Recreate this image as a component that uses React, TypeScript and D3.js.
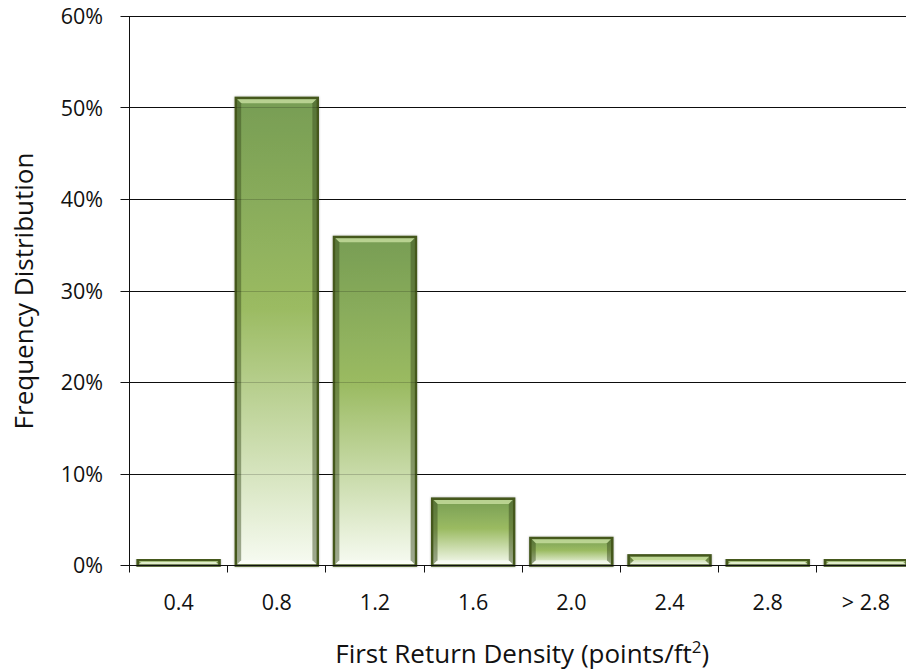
import React from "react";
import * as d3 from "d3";

// Frequency distribution of first-return point density
const categories = ["0.4", "0.8", "1.2", "1.6", "2.0", "2.4", "2.8", "> 2.8"];
const frequency = [0.6, 51.1, 35.9, 7.3, 3.0, 1.1, 0.6, 0.6];
const yTicks = [0, 10, 20, 30, 40, 50, 60];

const W = 906;
const H = 672;
const FONT = "'Open Sans', 'Noto Sans', sans-serif";

export default function App() {
  const plotLeft = 129.5;
  const plotRight = 915;
  const plotTop = 16.5;
  const plotBottom = 565.5;

  const gap = 0.2 / 1.2;
  const x = d3
    .scaleBand<string>()
    .domain(categories)
    .range([plotLeft, plotRight])
    .paddingInner(gap)
    .paddingOuter(gap / 2);
  const y = d3.scaleLinear().domain([0, 60]).range([plotBottom, plotTop]);
  const step = x.step();
  const bw = x.bandwidth();
  const crisp = (v: number) => Math.round(v - 0.5) + 0.5;

  return (
    <svg
      width={W}
      height={H}
      style={{ position: "absolute", left: 0, top: 0, background: "#fff" }}
      fontFamily={FONT}
    >
      <defs>
        <linearGradient id="barFill" x1="0" y1="0" x2="0" y2="1">
          <stop offset="0" stopColor="#779d54" />
          <stop offset="0.45" stopColor="#9bbb62" />
          <stop offset="1" stopColor="#f7fbf2" />
        </linearGradient>
        <filter id="barShadow" x="-10%" y="-10%" width="120%" height="120%">
          <feDropShadow dx="0" dy="0" stdDeviation="1.2" floodColor="#000" floodOpacity="0.3" />
        </filter>
      </defs>

      {/* horizontal gridlines */}
      {yTicks.map((t) => (
        <line
          key={"g" + t}
          x1={plotLeft - 9}
          x2={W}
          y1={crisp(y(t))}
          y2={crisp(y(t))}
          stroke="#111"
          strokeWidth={1}
        />
      ))}

      {/* y axis */}
      <line x1={crisp(plotLeft)} x2={crisp(plotLeft)} y1={crisp(y(60))} y2={crisp(y(0)) + 7} stroke="#111" />
      {yTicks.map((t) => (
        <text
          key={"yl" + t}
          x={103}
          y={y(t)}
          dy="0.36em"
          textAnchor="end"
          fontSize={21.5}
          fill="#111"
        >
          {t + "%"}
        </text>
      ))}

      {/* category boundary ticks */}
      {categories.map((c, i) => {
        const bx = crisp((x(c) as number) - (step * gap) / 2);
        return i === 0 ? null : (
          <line key={"xt" + c} x1={bx} x2={bx} y1={crisp(y(0))} y2={crisp(y(0)) + 7} stroke="#111" />
        );
      })}

      {/* bars */}
      {categories.map((c, i) => {
        const x0 = x(c) as number;
        const x1 = x0 + bw;
        const y0 = y(frequency[i]);
        const y1 = y(0);
        const h = y1 - y0;
        const b = Math.min(4, h / 2.5);
        return (
          <g key={"b" + c}>
            <rect
              x={x0}
              y={y0}
              width={bw}
              height={h}
              fill="url(#barFill)"
              stroke="#45581f"
              strokeWidth={2.6}
              filter="url(#barShadow)"
            />
            {/* bevel: lit top edge, shaded sides */}
            <polygon
              points={`${x0 + 1.3},${y0 + 1.3} ${x1 - 1.3},${y0 + 1.3} ${x1 - 1.3 - b},${y0 + 1.3 + b} ${x0 + 1.3 + b},${y0 + 1.3 + b}`}
              fill="#cde3a6"
              opacity={0.75}
            />
            <polygon
              points={`${x0 + 1.3},${y0 + 1.3} ${x0 + 1.3 + b},${y0 + 1.3 + b} ${x0 + 1.3 + b},${y1 - 1.3 - b} ${x0 + 1.3},${y1 - 1.3}`}
              fill="#344418"
              opacity={0.45}
            />
            <polygon
              points={`${x1 - 1.3},${y0 + 1.3} ${x1 - 1.3 - b},${y0 + 1.3 + b} ${x1 - 1.3 - b},${y1 - 1.3 - b} ${x1 - 1.3},${y1 - 1.3}`}
              fill="#344418"
              opacity={0.45}
            />
            <polygon
              points={`${x0 + 1.3},${y1 - 1.3} ${x1 - 1.3},${y1 - 1.3} ${x1 - 1.3 - b},${y1 - 1.3 - b} ${x0 + 1.3 + b},${y1 - 1.3 - b}`}
              fill="#ffffff"
              opacity={0.5}
            />
          </g>
        );
      })}

      {/* gridlines faintly visible through the bars */}
      {yTicks.slice(1).map((t) => (
        <line
          key={"go" + t}
          x1={plotLeft}
          x2={W}
          y1={crisp(y(t))}
          y2={crisp(y(t))}
          stroke="#000"
          strokeOpacity={0.18}
        />
      ))}

      {/* baseline drawn over the bars */}
      <line x1={plotLeft} x2={W} y1={crisp(y(0))} y2={crisp(y(0))} stroke="#111" />

      {/* category labels */}
      {categories.map((c) => (
        <text
          key={"xl" + c}
          x={(x(c) as number) + bw / 2}
          y={610}
          textAnchor="middle"
          fontSize={21.5}
          fill="#111"
        >
          {c}
        </text>
      ))}

      {/* axis titles */}
      <text x={(plotLeft + plotRight) / 2} y={663} textAnchor="middle" fontSize={26} fill="#111">
        First Return Density (points/ft
        <tspan fontSize={17} dy={-10}>2</tspan>
        <tspan dy={10}>)</tspan>
      </text>
      <text
        transform={`translate(33, ${(plotTop + plotBottom) / 2}) rotate(-90)`}
        textAnchor="middle"
        fontSize={26}
        fill="#111"
      >
        Frequency Distribution
      </text>
    </svg>
  );
}
